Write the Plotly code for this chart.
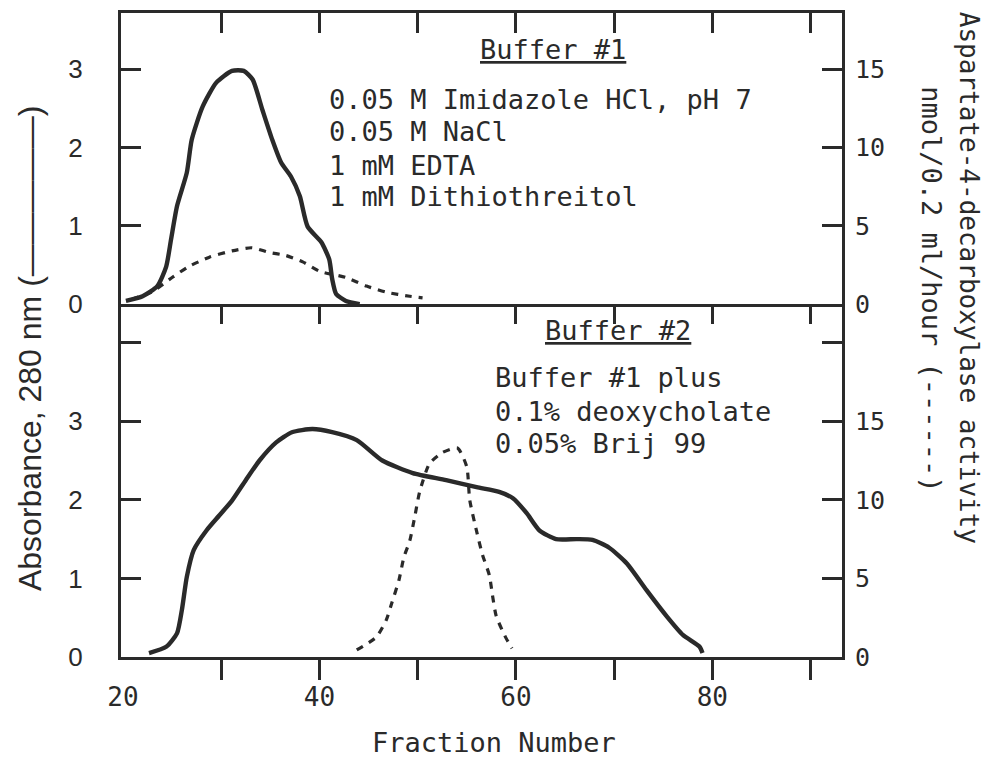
import plotly.graph_objects as go

# ---------------- data ----------------
# Top panel: Buffer #1
top_abs_x = [20.3, 22.0, 23.5, 24.4, 24.9, 25.5, 26.5, 27.0, 28.1, 29.5, 31.1, 32.3, 33.2,
             34.2, 35.2, 36.1, 37.1, 38.0, 38.8, 40.2, 41.0, 41.3, 41.7, 42.7, 44.1]
top_abs_y = [0.04, 0.10, 0.23, 0.48, 0.83, 1.25, 1.68, 2.10, 2.52, 2.83, 2.98, 2.98, 2.87,
             2.48, 2.10, 1.81, 1.63, 1.38, 0.99, 0.79, 0.57, 0.32, 0.13, 0.04, 0.0]
top_act_x = [20.9, 23.0, 25.0, 26.7, 28.8, 31.1, 33.1, 34.9, 36.6, 38.3, 40.0, 42.7, 44.8,
             46.8, 49.2, 50.5]
top_act_y = [0.3, 0.8, 1.7, 2.4, 3.0, 3.4, 3.6, 3.3, 3.1, 2.7, 2.1, 1.7, 1.15, 0.76, 0.5, 0.4]

# Bottom panel: Buffer #2
bot_abs_x = [22.65, 24.4, 25.5, 26.0, 26.5, 27.2, 28.5, 29.8, 31.1, 32.5, 33.9, 35.6, 37.2,
             39.3, 41.3, 43.8, 46.4, 49.5, 52.9, 56.0, 58.3, 59.7, 61.1, 62.4, 64.1, 66.2,
             67.8, 69.5, 71.3, 73.3, 75.4, 77.0, 78.7, 79.0]
bot_abs_y = [0.05, 0.13, 0.30, 0.60, 1.02, 1.36, 1.61, 1.80, 1.99, 2.25, 2.50, 2.73, 2.86,
             2.90, 2.86, 2.76, 2.50, 2.34, 2.25, 2.16, 2.10, 2.02, 1.83, 1.61, 1.50, 1.50,
             1.49, 1.39, 1.19, 0.85, 0.51, 0.28, 0.13, 0.05]
bot_act_x = [43.8, 45.8, 46.8, 47.4, 48.1, 48.6, 49.2, 49.7, 50.2, 51.2, 52.5, 54.05, 55.0,
             55.3, 56.0, 56.6, 57.3, 57.6, 58.0, 59.0, 59.6]
bot_act_y = [0.45, 1.27, 2.35, 3.5, 4.9, 6.35, 7.4, 8.9, 10.5, 12.3, 13.0, 13.3, 12.1,
             10.0, 8.0, 6.5, 5.2, 4.0, 2.6, 1.2, 0.55]

x_tick_marks = [30, 40, 50, 60, 70, 80, 90]
x_tick_labels = [20, 40, 60, 80]
top_left_ticks = [0, 1, 2, 3]
top_right_ticks = [0, 5, 10, 15]
bot_left_ticks = [0, 1, 2, 3, 4]
bot_left_text = ["0", "1", "2", "3", ""]
bot_right_ticks = [0, 5, 10, 15, 20]
bot_right_text = ["0", "5", "10", "15", ""]

buffer1_lines = ["0.05 M Imidazole HCl, pH 7", "0.05 M NaCl", "1 mM EDTA", "1 mM Dithiothreitol"]
buffer2_lines = ["Buffer #1 plus", "0.1% deoxycholate", "0.05% Brij 99"]

# ---------------- style ----------------
INK = "#2a2a2a"
MONO = "DejaVu Sans Mono"
SANS = "Liberation Sans"
XR = [19.8, 93.2]
SPLIT = 0.548

fig = go.Figure()
solid = dict(color=INK, width=4.4, shape="spline", smoothing=0.6)
dashed = dict(color=INK, width=3.2, dash="7px,7px", shape="spline", smoothing=0.6)

fig.add_trace(go.Scatter(x=top_abs_x, y=top_abs_y, xaxis="x", yaxis="y", mode="lines",
                         line=solid, showlegend=False, hoverinfo="skip"))
fig.add_trace(go.Scatter(x=top_act_x, y=top_act_y, xaxis="x", yaxis="y2", mode="lines",
                         line=dashed, showlegend=False, hoverinfo="skip"))
fig.add_trace(go.Scatter(x=bot_abs_x, y=bot_abs_y, xaxis="x2", yaxis="y3", mode="lines",
                         line=solid, showlegend=False, hoverinfo="skip"))
fig.add_trace(go.Scatter(x=bot_act_x, y=bot_act_y, xaxis="x2", yaxis="y4", mode="lines",
                         line=dashed, showlegend=False, hoverinfo="skip"))
# empty helper traces so the extra tick axes are drawn
fig.add_trace(go.Scatter(x=[], y=[], xaxis="x3", yaxis="y3", showlegend=False, hoverinfo="skip"))
fig.add_trace(go.Scatter(x=[], y=[], xaxis="x4", yaxis="y3", showlegend=False, hoverinfo="skip"))

tick_common = dict(ticklen=20, tickwidth=3, tickcolor=INK, showgrid=False, zeroline=False)
line_common = dict(showline=True, linewidth=3, linecolor=INK, mirror=True)
line_single = dict(showline=True, linewidth=3, linecolor=INK, mirror=False)

fig.update_layout(
    width=984, height=779,
    margin=dict(l=121, r=142, t=13, b=122),
    paper_bgcolor="white", plot_bgcolor="white",
    # top panel: top border + divider line (mirror)
    xaxis=dict(domain=[0, 1], anchor="y", range=XR, side="top", ticks="inside",
               tickvals=x_tick_marks, showticklabels=False, **tick_common, **line_common),
    yaxis=dict(domain=[SPLIT, 1], anchor="x", range=[0, 3.72], ticks="inside",
               tickvals=top_left_ticks, ticklabelstandoff=30,
               tickfont=dict(family=SANS, size=26, color=INK), **tick_common, **line_common),
    yaxis2=dict(overlaying="y", anchor="x", side="right", range=[0, 18.6], ticks="inside",
                tickvals=top_right_ticks, ticklabelstandoff=12,
                tickfont=dict(family=MONO, size=25, color=INK), **tick_common),
    # bottom panel: bottom border only (divider drawn by the top panel)
    xaxis2=dict(domain=[0, 1], anchor="y3", range=XR, side="bottom", ticks="outside",
                tickvals=x_tick_marks, showticklabels=False, **tick_common, **line_single),
    xaxis3=dict(overlaying="x2", anchor="y3", range=XR, side="top", ticks="inside",
                tickvals=x_tick_marks, showticklabels=False, **tick_common),
    xaxis4=dict(overlaying="x2", anchor="y3", range=XR, side="bottom", ticks="",
                tickvals=x_tick_labels, ticklabelstandoff=22,
                tickfont=dict(family=MONO, size=26, color=INK), showgrid=False, zeroline=False),
    yaxis3=dict(domain=[0, SPLIT], anchor="x2", range=[0, 4.49], ticks="inside",
                tickvals=bot_left_ticks, ticktext=bot_left_text, ticklabelstandoff=30,
                tickfont=dict(family=SANS, size=26, color=INK), **tick_common, **line_common),
    yaxis4=dict(overlaying="y3", anchor="x2", side="right", range=[0, 22.45], ticks="inside",
                tickvals=bot_right_ticks, ticktext=bot_right_text, ticklabelstandoff=12,
                tickfont=dict(family=MONO, size=25, color=INK), **tick_common),
)

ann = []
tfont = dict(family=MONO, size=27, color=INK)
ann.append(dict(x=56.14, y=3.25, xref="x", yref="y", text="<u>Buffer #1</u>", showarrow=False,
                xanchor="left", yanchor="middle", font=tfont))
for t, yy in zip(buffer1_lines, [2.61, 2.20, 1.77, 1.37]):
    ann.append(dict(x=40.77, y=yy, xref="x", yref="y", text=t, showarrow=False,
                    xanchor="left", yanchor="middle", font=tfont))
ann.append(dict(x=62.76, y=4.16, xref="x2", yref="y3", text="<u>Buffer #2</u>", showarrow=False,
                xanchor="left", yanchor="middle", font=tfont))
for t, yy in zip(buffer2_lines, [3.55, 3.12, 2.72]):
    ann.append(dict(x=57.67, y=yy, xref="x2", yref="y3", text=t, showarrow=False,
                    xanchor="left", yanchor="middle", font=tfont))

# axis titles
ann.append(dict(x=-0.126, y=0.480, xref="paper", yref="paper",
                text="Absorbance, 280 nm (—————)", textangle=-90, showarrow=False,
                xanchor="center", yanchor="middle", font=dict(family=SANS, size=32, color=INK)))
ann.append(dict(x=1.176, y=0.589, xref="paper", yref="paper",
                text="Aspartate-4-decarboxylase activity", textangle=90, showarrow=False,
                xanchor="center", yanchor="middle", font=dict(family=MONO, size=26, color=INK)))
ann.append(dict(x=1.125, y=0.571, xref="paper", yref="paper",
                text="nmol/0.2 ml/hour (------)", textangle=90, showarrow=False,
                xanchor="center", yanchor="middle", font=dict(family=MONO, size=27, color=INK)))
ann.append(dict(x=0.517, y=-0.132, xref="paper", yref="paper", text="Fraction Number",
                showarrow=False, xanchor="center", yanchor="middle",
                font=dict(family=MONO, size=27, color=INK)))
fig.update_layout(annotations=ann)

fig.write_html("out.html")
